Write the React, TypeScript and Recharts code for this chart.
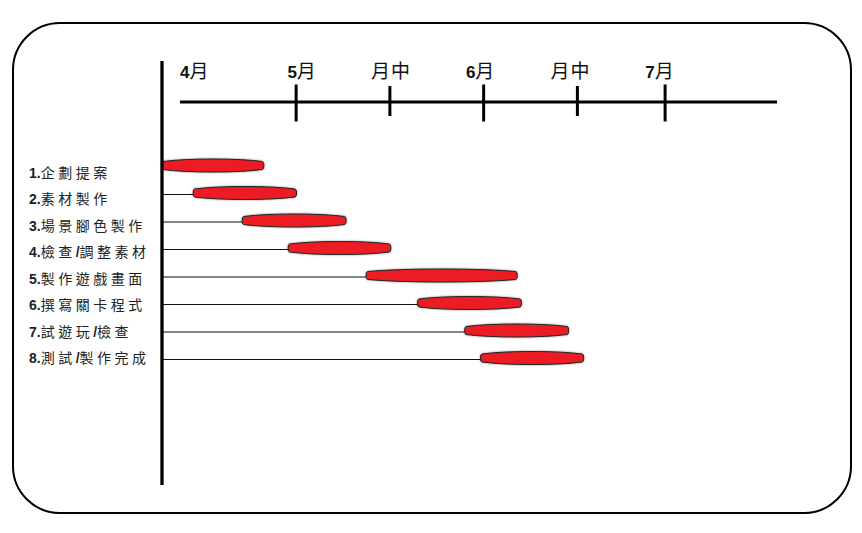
import React from "react";
import { BarChart, Bar, XAxis, YAxis } from "recharts";

// ---- data ----
const TASKS = [
  "1.企劃提案",
  "2.素材製作",
  "3.場景腳色製作",
  "4.檢查/調整素材",
  "5.製作遊戲畫面",
  "6.撰寫關卡程式",
  "7.試遊玩/檢查",
  "8.測試/製作完成",
];
// days counted from 1 April
const TASK_START = [8, 13.2, 21.3, 28.9, 41.8, 50.3, 58.1, 60.7];
const TASK_END = [24.4, 29.8, 38, 45.4, 66.3, 67, 74.8, 77.3];

const TICK_DAYS = [10.8, 30, 45.5, 61, 76.5, 91];
const TICK_LABELS = ["4月", "5月", "月中", "6月", "月中", "7月"];

const AXIS_START = 7.8;
const AXIS_END = 109.5;
const TIME_START = 10.8;

// ---- styles ----
const LABEL_NUDGE = [0, 6, 1, -3, -7, -5];
const CJK = "'Noto Sans CJK TC', 'Noto Sans CJK SC', sans-serif";
const LATIN = "'Liberation Sans', Arial, sans-serif";

const rows = TASKS.map((task, i) => ({
  task,
  start: TASK_START[i],
  end: TASK_END[i],
  span: [AXIS_START, TASK_END[i]],
}));

const timelineRows = [{ name: "timeline", span: [TIME_START, AXIS_END] }];

function splitRuns(s: string) {
  const runs: { ascii: boolean; s: string }[] = [];
  for (const ch of s) {
    const ascii = ch.charCodeAt(0) < 128;
    const last = runs[runs.length - 1];
    if (last && last.ascii === ascii) last.s += ch;
    else runs.push({ ascii, s: ch });
  }
  return runs;
}

function TaskTick(props: any) {
  const { y, payload, index } = props;
  const runs = splitRuns(String(payload.value));
  const by = y + 5 + (7 - index);
  return (
    <text x={29} y={by} fill="#222" fontSize={14}>
      {runs.map((r, i) =>
        r.ascii ? (
          <tspan key={i} fontFamily={LATIN} fontWeight="bold">
            {r.s}
          </tspan>
        ) : (
          <tspan key={i} fontFamily={CJK} letterSpacing={3.5}>
            {r.s}
          </tspan>
        )
      )}
    </text>
  );
}

function TimeTick(props: any) {
  const { x, y, index } = props;
  const label = TICK_LABELS[index] ?? "";
  const first = index === 0;
  const mid = label === "月中";
  const runs = splitRuns(label);
  return (
    <g>
      {!first && (
        <line
          x1={x}
          x2={x}
          y1={mid ? y - 16 : y - 17.5}
          y2={mid ? y + 14 : y + 19.5}
          stroke="#000"
          strokeWidth={3}
        />
      )}
      <text
        x={x + LABEL_NUDGE[index]}
        y={y - 24.5}
        textAnchor={first ? "start" : "middle"}
        fill="#111"
      >
        {runs.map((r, i) =>
          r.ascii ? (
            <tspan key={i} fontFamily={LATIN} fontWeight="bold" fontSize={17}>
              {r.s}
            </tspan>
          ) : (
            <tspan key={i} fontFamily={CJK} fontSize={19} letterSpacing={1}>
              {r.s}
            </tspan>
          )
        )}
      </text>
    </g>
  );
}

function GanttShape(props: any) {
  const { x, y, width, height, payload } = props;
  if (!payload) return null;
  const span = payload.end - AXIS_START;
  const sx = x + (width * (payload.start - AXIS_START)) / span;
  const ex = x + width;
  const cy = y + height / 2;
  const half = height / 2;
  const e = 4;
  const w = ex - sx;
  const a = w / 2 / Math.sqrt(1 - (e / half) ** 2);
  const d = `M${sx},${cy - e} A${a},${half} 0 0 1 ${ex},${cy - e} A1.5,${e} 0 0 1 ${ex},${cy + e} A${a},${half} 0 0 1 ${sx},${cy + e} A1.5,${e} 0 0 1 ${sx},${cy - e} Z`;
  return (
    <g>
      {sx - x > 1 && (
        <line x1={x} x2={sx} y1={cy + 1.5} y2={cy + 1.5} stroke="#111" strokeWidth={1.2} />
      )}
      <path
        d={d}
        fill="#ed1c24"
        stroke="#222"
        strokeWidth={1}
        style={{ filter: "drop-shadow(0 0 1.2px rgba(0,0,0,0.45))" }}
      />
    </g>
  );
}

const NoShape = () => <g />;

export default function App() {
  return (
    <div
      style={{
        position: "absolute",
        left: 0,
        top: 0,
        width: 862,
        height: 533,
        background: "#fff",
        fontFamily: LATIN,
      }}
    >
      <div
        style={{
          position: "absolute",
          left: 12,
          top: 22,
          width: 839.5,
          height: 491.5,
          border: "2.5px solid #000",
          borderRadius: 48,
          boxSizing: "border-box",
        }}
      />
      <div style={{ position: "absolute", left: 0, top: 0 }}>
        <BarChart
          width={862}
          height={533}
          data={rows}
          layout="vertical"
          margin={{ top: 61, right: 85, bottom: 48, left: 102 }}
        >
          <XAxis type="number" dataKey="end" domain={[AXIS_START, AXIS_END]} hide />
          <YAxis
            type="category"
            dataKey="task"
            width={60}
            padding={{ top: 91, bottom: 113 }}
            axisLine={{ stroke: "#000", strokeWidth: 3.3 }}
            tickLine={false}
            interval={0}
            tick={<TaskTick />}
          />
          <Bar dataKey="span" barSize={13} shape={<GanttShape />} isAnimationActive={false} />
        </BarChart>
      </div>
      <div style={{ position: "absolute", left: 0, top: 0 }}>
        <BarChart
          width={862}
          height={130}
          data={timelineRows}
          layout="vertical"
          margin={{ top: 62, right: 85, bottom: 10, left: 180 }}
        >
          <XAxis
            type="number"
            orientation="top"
            domain={[TIME_START, AXIS_END]}
            ticks={TICK_DAYS}
            interval={0}
            height={40}
            tickSize={0}
            tickMargin={0}
            axisLine={{ stroke: "#000", strokeWidth: 3 }}
            tickLine={false}
            tick={<TimeTick />}
          />
          <YAxis type="category" dataKey="name" width={0} hide />
          <Bar dataKey="span" shape={<NoShape />} isAnimationActive={false} />
        </BarChart>
      </div>
    </div>
  );
}
